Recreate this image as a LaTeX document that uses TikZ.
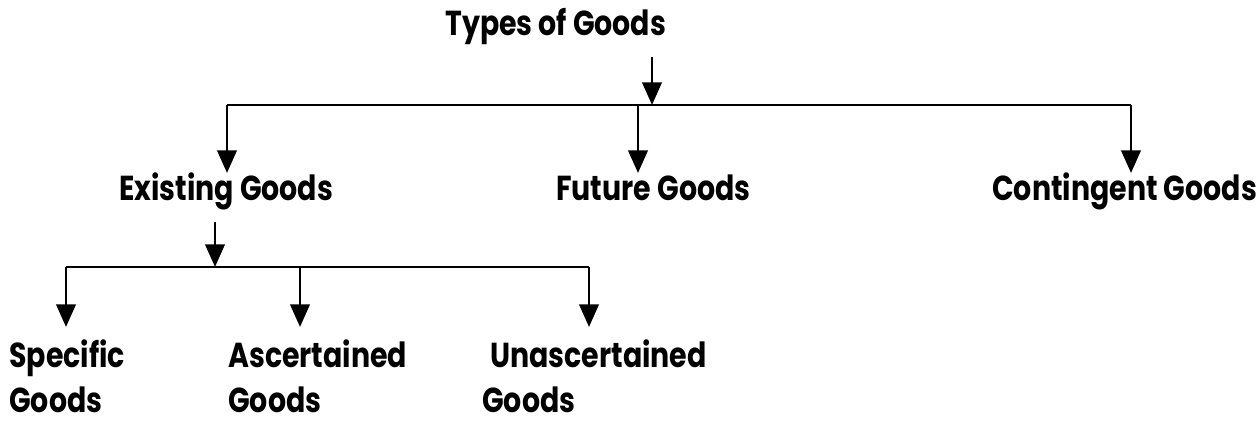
\documentclass[tikz,border=0pt]{standalone}
\usepackage{fontspec}
\setmainfont{Poppins}
\usetikzlibrary{arrows.meta}
\newcommand{\narrowtxt}[1]{\scalebox{0.82}[1]{#1}}
\begin{document}
\begin{tikzpicture}[x=0.75pt,y=-0.75pt,
  lbl/.style={font=\fontsize{26pt}{30pt}\selectfont\bfseries, inner sep=0pt, anchor=base west},
  conn/.style={line width=2.2pt},
  arr/.style={conn,-{Triangle[length=17pt,width=14.5pt]}}]
\useasboundingbox (0,0) rectangle (1260,424);
% labels
\node[lbl] (types) at (445,36) {\narrowtxt{Types of Goods}};
\node[lbl] (exist) at (119,200) {\narrowtxt{Existing Goods}};
\node[lbl] (future) at (556,200) {\narrowtxt{Future Goods}};
\node[lbl] (conting) at (992,200) {\narrowtxt{Contingent Goods}};
\node[lbl] (spec1) at (9,367) {\narrowtxt{Specific}};
\node[lbl] (spec2) at (9,412) {\narrowtxt{Goods}};
\node[lbl] (asc1) at (228,367) {\narrowtxt{Ascertained}};
\node[lbl] (asc2) at (228,412) {\narrowtxt{Goods}};
\node[lbl] (unasc1) at (490,367) {\narrowtxt{Unascertained}};
\node[lbl] (unasc2) at (482,412) {\narrowtxt{Goods}};
% junction coordinates
\coordinate (t0) at (652,57);
\coordinate (t1) at (652,105);
\coordinate (hL) at (227,105);
\coordinate (hR) at (1131,105);
\coordinate (hM) at (638,105);
\coordinate (aL) at (227,173);
\coordinate (aM) at (638,173);
\coordinate (aR) at (1131,173);
\coordinate (e0) at (215,222);
\coordinate (e1) at (215,267);
\coordinate (gL) at (66,267);
\coordinate (gM) at (300,267);
\coordinate (gR) at (589,267);
\coordinate (bL) at (66,327);
\coordinate (bM) at (300,327);
\coordinate (bR) at (589,327);
% connectors
\draw[arr] (t0) -- (t1);
\draw[conn] (hL) -- (hR);
\draw[arr] (hL) -- (aL);
\draw[arr] (hM) -- (aM);
\draw[arr] (hR) -- (aR);
\draw[arr] (e0) -- (e1);
\draw[conn] (gL) -- (gR);
\draw[arr] (gL) -- (bL);
\draw[arr] (gM) -- (bM);
\draw[arr] (gR) -- (bR);
\end{tikzpicture}
\end{document}
